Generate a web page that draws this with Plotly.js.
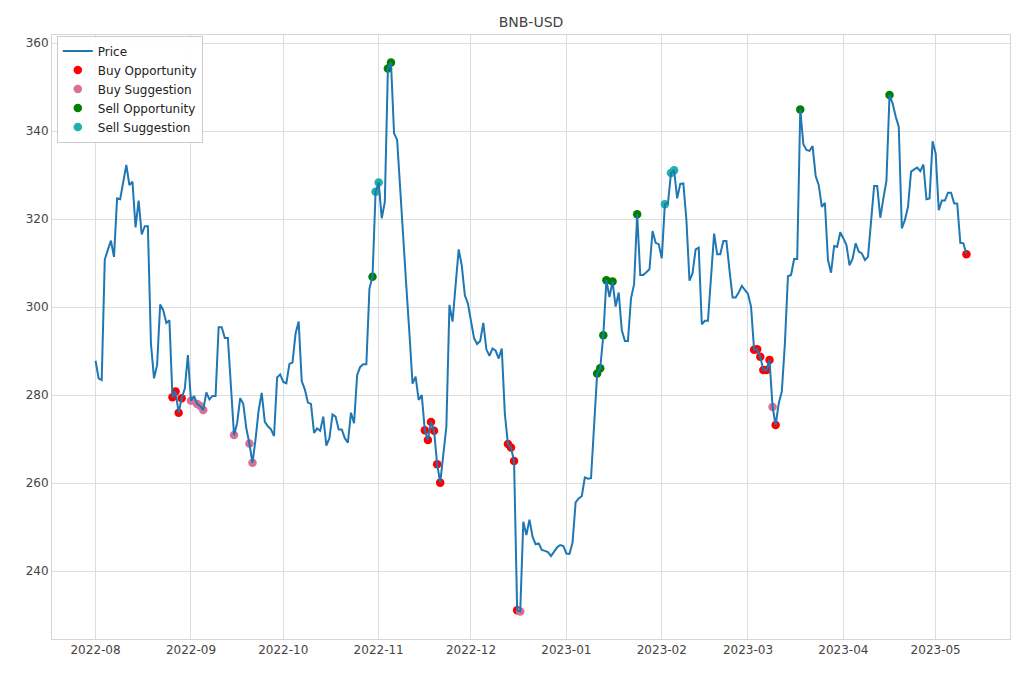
<!DOCTYPE html>
<html>
<head>
<meta charset="utf-8">
<script src="https://cdn.plot.ly/plotly-3.0.1.min.js"></script>
<style>html,body{margin:0;padding:0;background:#fff;}#chart{width:1020px;height:680px;}</style>
</head>
<body>
<div id="chart"></div>
<script>
// Daily closing prices, starting 2022-08-01
const startDate = '2022-08-01';
const priceAug = [287.8,283.8,283.4,310.8,313.0,315.1,311.4,324.7,324.5,328.5,332.3,327.7,328.5,318.1,324.2,316.5,318.4,318.4,291.7,283.8,286.8,300.6,299.3,296.4,297.0,279.5,280.8,276.0,279.3,281.5,289.1];
const priceSep = [278.7,279.8,278.0,277.5,276.6,280.6,279.0,279.8,279.8,295.4,295.4,293.0,293.0,282.0,270.9,273.6,279.3,278.0,272.4,269.0,264.6,270.0,276.6,280.5,273.9,272.9,272.2,270.7,284.0,284.7];
const priceOct = [283.0,282.7,287.1,287.4,294.0,296.7,283.2,281.3,278.3,278.0,271.4,272.4,271.9,275.1,268.5,270.2,275.6,275.1,272.2,272.2,270.2,269.2,276.0,273.6,284.5,286.4,287.0,287.0,304.2,306.9,326.2];
const priceNov = [328.3,320.2,323.9,354.2,355.6,339.5,338.0,326.6,313.7,304.6,294.0,282.6,284.2,278.9,280.0,272.0,269.8,273.9,271.9,264.3,260.1,266.5,272.8,300.5,296.7,305.0,313.1,309.5,302.7,300.8];
const priceDec = [296.3,292.9,291.6,292.3,296.4,290.4,288.9,290.6,290.1,288.3,290.6,275.8,268.9,268.1,265.0,231.1,230.8,251.2,248.2,251.7,247.8,246.1,246.3,244.8,244.6,244.3,243.4,244.4,245.4,245.9,245.7];
const priceJan = [244.0,243.9,246.5,255.6,256.5,257.0,261.3,261.0,261.1,273.0,284.9,286.1,293.6,306.1,302.3,305.8,300.1,303.3,294.8,292.3,292.3,302.0,305.2,321.1,307.3,307.3,308.0,308.6,317.3,314.6,314.3];
const priceFeb = [311.1,323.4,323.6,330.5,331.1,324.7,328.0,328.1,319.8,306.0,307.7,313.1,313.5,296.1,296.9,296.9,307.7,316.7,312.0,312.0,315.0,315.0,308.4,302.2,302.2,303.3,304.8,304.0];
const priceMar = [303.0,300.1,290.3,290.4,288.7,285.7,285.7,288.0,277.3,273.2,278.1,280.8,291.7,307.0,307.3,310.9,310.9,344.9,337.0,335.7,335.5,336.6,329.8,327.7,322.8,323.7,310.7,307.8,313.9,313.7,317.0];
const priceApr = [315.6,314.1,309.5,311.0,314.5,312.6,312.2,310.7,311.4,319.8,327.5,327.5,320.3,324.7,328.7,348.2,346.3,343.3,341.0,317.9,319.8,322.8,330.8,331.3,331.7,330.9,332.4,324.5,324.7,337.7];
const priceMay = [334.9,322.0,324.2,324.2,326.0,326.0,323.6,323.5,314.6,314.5,312.0];

// Signal dates
const buyOpportunityDates = ['2022-08-26','2022-08-27','2022-08-28','2022-08-29','2022-11-16','2022-11-17','2022-11-18','2022-11-19','2022-11-20','2022-11-21','2022-12-13','2022-12-14','2022-12-15','2022-12-16','2023-03-03','2023-03-04','2023-03-05','2023-03-06','2023-03-07','2023-03-08','2023-03-10','2023-05-11'];
const buySuggestionDates = ['2022-09-01','2022-09-03','2022-09-04','2022-09-05','2022-09-15','2022-09-20','2022-09-21','2022-12-17','2023-03-09'];
const sellOpportunityDates = ['2022-10-30','2022-11-04','2022-11-05','2023-01-11','2023-01-12','2023-01-13','2023-01-14','2023-01-16','2023-01-24','2023-03-18','2023-04-16'];
const sellSuggestionDates = ['2022-10-31','2022-11-01','2023-02-02','2023-02-04','2023-02-05'];

const prices = [].concat(priceAug, priceSep, priceOct, priceNov, priceDec, priceJan, priceFeb, priceMar, priceApr, priceMay);
const dates = [];
const t0 = Date.parse(startDate + 'T00:00:00Z');
for (let i = 0; i < prices.length; i++) {
  dates.push(new Date(t0 + i * 86400000).toISOString().slice(0, 10));
}
const lookup = {};
dates.forEach((d, i) => { lookup[d] = prices[i]; });
function sig(list) { return { x: list, y: list.map(d => lookup[d]) }; }

const mk = 8.5;
const traces = [
  Object.assign({ type: 'scatter', mode: 'markers', name: 'Buy Opportunity', legendrank: 2, marker: { color: 'red', size: mk } }, sig(buyOpportunityDates)),
  Object.assign({ type: 'scatter', mode: 'markers', name: 'Buy Suggestion', legendrank: 3, marker: { color: 'palevioletred', size: mk } }, sig(buySuggestionDates)),
  Object.assign({ type: 'scatter', mode: 'markers', name: 'Sell Opportunity', legendrank: 4, marker: { color: 'green', size: mk } }, sig(sellOpportunityDates)),
  Object.assign({ type: 'scatter', mode: 'markers', name: 'Sell Suggestion', legendrank: 5, marker: { color: 'lightseagreen', size: mk } }, sig(sellSuggestionDates)),
  { type: 'scatter', mode: 'lines', name: 'Price', legendrank: 1, x: dates, y: prices, line: { color: '#1f77b4', width: 2 } }
];

const font = { family: 'DejaVu Sans, sans-serif', size: 12, color: '#333' };
const layout = {
  width: 1020, height: 680,
  margin: { l: 52, r: 10, t: 35, b: 41 },
  paper_bgcolor: '#fff', plot_bgcolor: '#fff',
  font: font,
  title: { text: 'BNB-USD', x: 0.5, xref: 'paper', y: 1 - 22 / 680, yref: 'container', yanchor: 'middle', font: { family: 'DejaVu Sans, sans-serif', size: 14, color: '#444' } },
  xaxis: {
    type: 'date', range: ['2022-07-17 20:24', '2023-05-25 03:36'],
    tick0: '2022-08-01', dtick: 'M1', tickformat: '%Y-%m',
    showgrid: true, gridcolor: '#dddddd', gridwidth: 1,
    showline: true, mirror: true, linecolor: '#d5d5d5', linewidth: 1,
    ticks: '', zeroline: false, tickfont: { size: 12, color: '#444' }
  },
  yaxis: {
    range: [224.56, 361.84], tick0: 240, dtick: 20,
    showgrid: true, gridcolor: '#dddddd', gridwidth: 1,
    showline: true, mirror: true, linecolor: '#d5d5d5', linewidth: 1,
    ticks: '', zeroline: false, tickfont: { size: 12, color: '#444' }
  },
  legend: {
    x: 0.005, y: 0.999, xanchor: 'left', yanchor: 'top',
    bgcolor: 'rgba(255,255,255,0.9)', bordercolor: '#cccccc', borderwidth: 1,
    font: { family: 'DejaVu Sans, sans-serif', size: 12, color: '#222' },
    tracegroupgap: 0, itemwidth: 30, traceorder: 'normal'
  },
  showlegend: true
};
Plotly.newPlot('chart', traces, layout, { staticPlot: true, displayModeBar: false });
</script>
</body>
</html>
